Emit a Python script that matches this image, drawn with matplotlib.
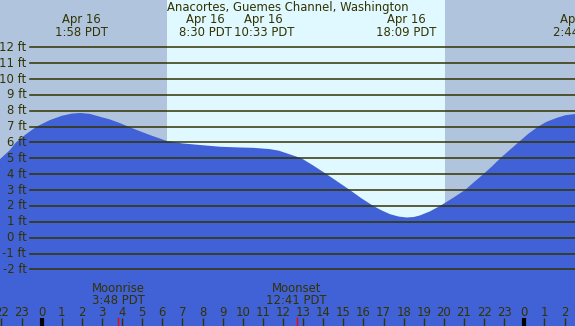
import matplotlib
matplotlib.use("Agg")
import matplotlib.pyplot as plt
import matplotlib.transforms as mtransforms

# ---------------- data ----------------
title = "Anacortes, Guemes Channel, Washington"
tide_hours = [-2.07, -1.58, -1.28, -0.8, -0.25, 0.41, 1.0, 1.5, 1.93, 2.4, 2.9, 3.4, 3.89,
              4.6, 5.38, 6.23, 7.0, 7.87, 8.87, 9.7, 10.55, 11.35, 11.8, 12.2, 12.92,
              13.5, 14.17, 14.75, 15.33, 15.9, 16.49, 16.9, 17.32, 17.75, 18.15, 18.5,
              18.81, 19.3, 19.81, 20.45, 21.05, 21.5, 21.96, 22.4, 22.8, 23.25, 23.7,
              24.2, 24.69, 25.1, 25.61, 26.05, 26.52]
tide_heights = [4.95, 5.52, 6.0, 6.5, 7.0, 7.41, 7.68, 7.82, 7.86, 7.8, 7.62, 7.45, 7.22,
                6.85, 6.47, 6.09, 5.94, 5.84, 5.73, 5.69, 5.66, 5.58, 5.48, 5.31, 5.0,
                4.55, 4.0, 3.5, 3.0, 2.48, 2.0, 1.72, 1.48, 1.33, 1.27, 1.3,
                1.4, 1.65, 2.0, 2.5, 3.0, 3.5, 4.0, 4.5, 5.0, 5.5, 6.0,
                6.55, 7.0, 7.3, 7.55, 7.72, 7.79]
sunrise_h = 6.23
sunset_h = 20.06
event_hours = [1.97, 8.5, 10.55, 18.15, 26.73]
event_labels = ["1:58 PDT", "8:30 PDT", "10:33 PDT", "18:09 PDT", "2:44 PDT"]
event_dates = ["Apr 16", "Apr 16", "Apr 16", "Apr 16", "Apr 16"]
event_shift_px = [0, -7, 10, 0, 0]
moon_hours = [3.8, 12.68]
moon_labels = ["Moonrise\n3:48 PDT", "Moonset\n12:41 PDT"]
ft_levels = list(range(-2, 13))
hour_ticks = list(range(-2, 27))
hour_names = [str(h % 24) for h in hour_ticks]

# ---------------- style ----------------
W, H = 575, 326
night_c = "#b0c4de"
day_c = "#e0f8ff"
water_c = "#4161d6"
text_c = "#333300"
fs = 8.4

fig = plt.figure(figsize=(W / 100, H / 100), dpi=100)
ax = fig.add_axes([0, 0, 1, 1])
ax.set_xlim(-2.07, 26.52)
ax.set_ylim(-5.57, 14.98)
ax.axis("off")

ax.axvspan(-5, sunrise_h, color=night_c, zorder=0, lw=0)
ax.axvspan(sunrise_h, sunset_h, color=day_c, zorder=0, lw=0)
ax.axvspan(sunset_h, 30, color=night_c, zorder=0, lw=0)

ax.fill_between(tide_hours, tide_heights, -10, color=water_c, lw=0, zorder=1)

gx0 = 29.5 / W
yt = mtransforms.blended_transform_factory(ax.transAxes, ax.transData)
for v in ft_levels:
    ax.axhline(v, xmin=gx0, xmax=1, color=text_c, lw=1.1, zorder=2)
    ax.text(26.5 / W, v, f"{v} ft", transform=yt,
            ha="right", va="center", fontsize=fs, color=text_c, zorder=3)

bt = mtransforms.blended_transform_factory(ax.transData, ax.transAxes)

def yf(p):
    return 1 - p / H

ax.text(0.5, yf(8), title, transform=ax.transAxes, ha="center", va="center", fontsize=fs, color=text_c)
for h, lab, d, s in zip(event_hours, event_labels, event_dates, event_shift_px):
    off = mtransforms.offset_copy(bt, fig=fig, x=s * 0.72, y=0, units="points")
    ax.text(h, yf(20), d, transform=off, ha="center", va="center", fontsize=fs, color=text_c)
    ax.text(h, yf(32), lab, transform=off, ha="center", va="center", fontsize=fs, color=text_c)

for h, lab in zip(moon_hours, moon_labels):
    l1, l2 = lab.split("\n")
    ax.text(h, yf(288), l1, transform=bt, ha="center", va="center", fontsize=fs, color=text_c)
    ax.text(h, yf(300), l2, transform=bt, ha="center", va="center", fontsize=fs, color=text_c)
    ax.plot([h, h], [yf(318), yf(326)], transform=bt, color="red", lw=1, zorder=4)

for h, n in zip(hour_ticks, hour_names):
    ax.text(h, yf(312), n, transform=bt, ha="center", va="center", fontsize=fs, color=text_c)
    lw = 3 if h % 24 == 0 else 1
    col = "black" if h % 24 == 0 else text_c
    ax.plot([h, h], [yf(318), yf(326)], transform=bt, color=col, lw=lw, zorder=3,
            solid_capstyle="butt")

fig.savefig("out.png", dpi=100)
